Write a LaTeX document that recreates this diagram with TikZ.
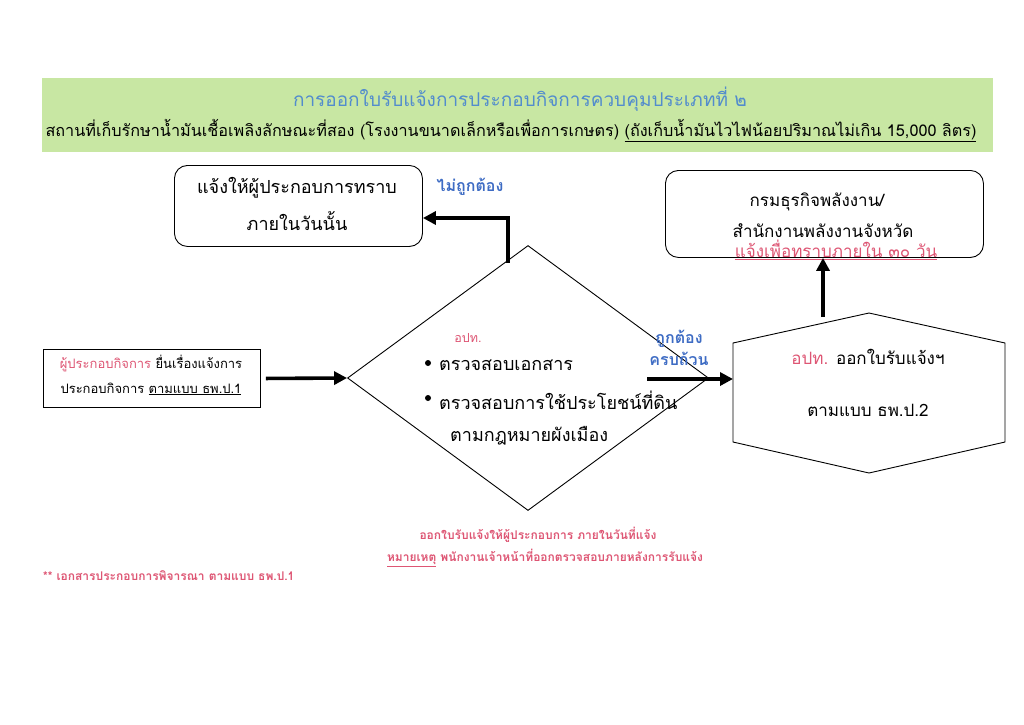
\documentclass[tikz,border=0pt]{standalone}
\usepackage{fontspec}
\newfontfamily\thaifont[Script=Thai]{Loma}
\usetikzlibrary{arrows.meta,shapes.geometric}
\definecolor{bannergreen}{RGB}{200,231,163}
\definecolor{titleblue}{RGB}{82,140,205}
\definecolor{lblblue}{RGB}{62,108,196}
\definecolor{pinkred}{RGB}{222,86,116}
\newcommand{\fs}[1]{\fontsize{#1}{#1}\selectfont}
\begin{document}
\begin{tikzpicture}[x=1pt,y=-1pt,
  every node/.style={font=\thaifont, inner sep=0pt},
  rbox/.style={draw, rounded corners=13pt, line width=0.9pt},
  sbox/.style={draw, line width=0.9pt},
  arr/.style={line width=3.6pt, -{Triangle[length=13pt,width=13pt]}},
  boxtxt/.style={font=\thaifont\fs{18}},
  lbl/.style={font=\thaifont\bfseries\fs{16}, text=lblblue},
  note/.style={font=\thaifont\bfseries\fs{12}, text=pinkred}
]
\useasboundingbox[fill=white] (0,0) rectangle (1024,724);

% banner
\node[fill=bannergreen, minimum width=951pt, minimum height=74pt, anchor=north west] (banner) at (42,78) {};
\node[text=titleblue, font=\thaifont\fs{19}] (t1) at (520,99) {การออกใบรับแจ้งการประกอบกิจการควบคุมประเภทที่ ๒};
\node[font=\thaifont\fs{16.2}] (t2) at (511,131) {สถานที่เก็บรักษาน้ำมันเชื้อเพลิงลักษณะที่สอง (โรงงานขนาดเล็กหรือเพื่อการเกษตร) \underline{(ถังเก็บน้ำมันไวไฟน้อยปริมาณไม่เกิน 15,000 ลิตร)}};

% top-left box
\node[rbox, minimum width=248pt, minimum height=81pt, anchor=north west] (tl) at (174,165) {};
\node[boxtxt] (tlA) at (297,188) {แจ้งให้ผู้ประกอบการทราบ};
\node[boxtxt] (tlB) at (297,221) {ภายในวันนั้น};
\node[lbl] (lblno) at (470,187) {ไม่ถูกต้อง};

% top-right box
\node[rbox, minimum width=318pt, minimum height=87pt, anchor=north west] (tr) at (665,170) {};
\node[font=\thaifont\fs{17}] (trA) at (817,202) {กรมธุรกิจพลังงาน/};
\node[font=\thaifont\fs{17}] (trB) at (823,231) {สำนักงานพลังงานจังหวัด};
\node[font=\thaifont\fs{17}, text=pinkred] (trC) at (836,250) {\underline{แจ้งเพื่อทราบภายใน ๓๐ วัน}};

% left box
\node[sbox, minimum width=217pt, minimum height=58pt, anchor=north west] (lb) at (43,349) {};
\node[font=\thaifont\fs{13}] (lbA) at (151,363) {\textcolor{pinkred}{ผู้ประกอบกิจการ} ยื่นเรื่องแจ้งการ};
\node[font=\thaifont\fs{13}] (lbB) at (151,389) {ประกอบกิจการ \underline{ตามแบบ ธพ.ป.1}};

% diamond
\node[draw, line width=0.9pt, diamond, minimum width=361pt, minimum height=265pt, inner sep=0pt] (chk) at (528,378) {};
\node[font=\thaifont\fs{12.5}, text=pinkred] (chkA) at (468,338) {อปท.};
\fill (428,363) circle (3pt);
\fill (428,398) circle (3pt);
\node[font=\thaifont\fs{18}, anchor=west] (chkB) at (439,365) {ตรวจสอบเอกสาร};
\node[font=\thaifont\fs{18}, anchor=west] (chkC) at (439,400) {ตรวจสอบการใช้ประโยชน์ที่ดิน};
\node[font=\thaifont\fs{18}, anchor=west] (chkD) at (450,436) {ตามกฎหมายผังเมือง};
\node[lbl] (lblyesA) at (679,339) {ถูกต้อง};
\node[lbl] (lblyesB) at (679,359) {ครบถ้วน};

% hexagon
\coordinate (h1) at (733,343);
\coordinate (h2) at (869,313);
\coordinate (h3) at (1005,343);
\coordinate (h4) at (1005,442);
\coordinate (h5) at (869,473);
\coordinate (h6) at (733,442);
\draw[line width=0.9pt] (h1) -- (h2) -- (h3) -- (h4) -- (h5) -- (h6) -- cycle;
\node[font=\thaifont\fs{17}] (hexA) at (868,357) {\textcolor{pinkred}{อปท.} ออกใบรับแจ้งฯ};
\node[font=\thaifont\fs{17}] (hexB) at (868,410) {ตามแบบ ธพ.ป.2};

% notes
\node[note] (n1) at (538,535) {ออกใบรับแจ้งให้ผู้ประกอบการ ภายในวันที่แจ้ง};
\node[note] (n2) at (545,558) {\underline{หมายเหตุ} พนักงานเจ้าหน้าที่ออกตรวจสอบภายหลังการรับแจ้ง};
\node[note, anchor=west] (n3) at (43,576) {** เอกสารประกอบการพิจารณา ตามแบบ ธพ.ป.1};

% connectors
\coordinate (c1) at (508,263);
\coordinate (c2) at (647,379);
\coordinate (c3) at (823,317);
\draw[arr] ([xshift=5pt]lb.east) -- (chk.west);
\draw[arr] (c1) -- (c1 |- 0,218) -- (tl.east |- 0,218);
\draw[arr] (c2) -- (h1 |- c2);
\draw[arr] (c3) -- (c3 |- tr.south);
\end{tikzpicture}
\end{document}
